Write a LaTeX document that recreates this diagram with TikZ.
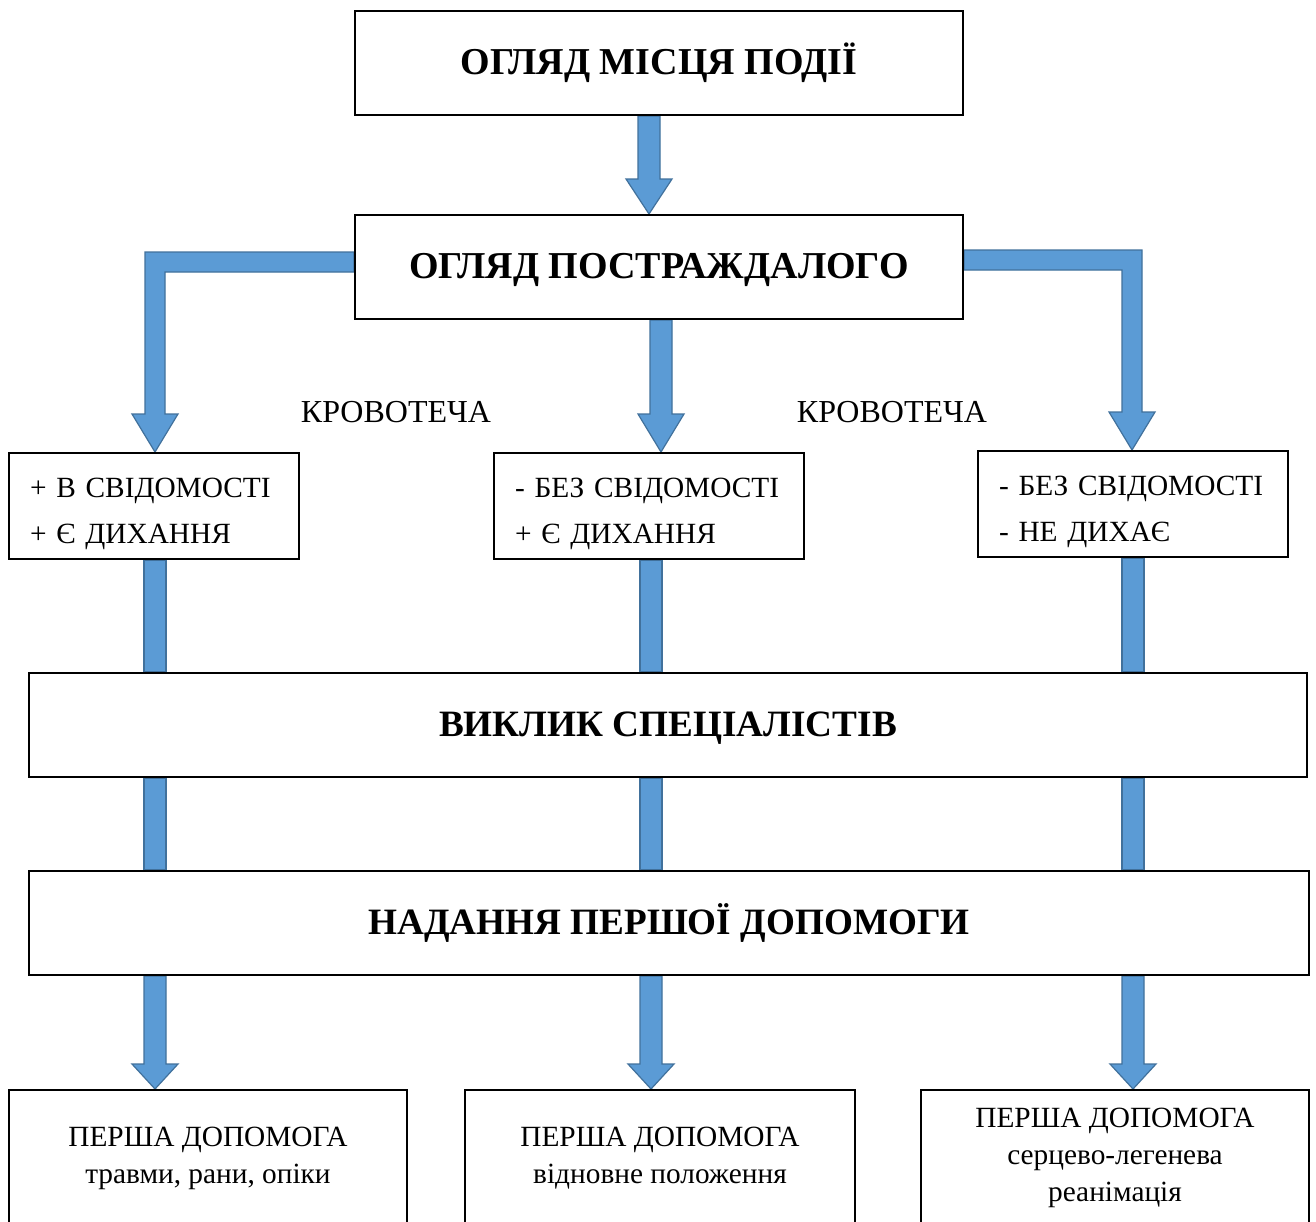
\documentclass[tikz,border=0pt]{standalone}
\usepackage{fontspec}
\setmainfont{Liberation Serif}
\usetikzlibrary{calc,backgrounds}
\definecolor{arrfill}{RGB}{91,155,213}
\definecolor{arrline}{RGB}{65,113,156}
\tikzset{
  box/.style={draw=black, line width=1.5pt, fill=white, inner sep=0pt, align=center},
  boldtxt/.style={font=\fontsize{28.5}{34}\selectfont\bfseries},
  boldtxtb/.style={font=\fontsize{27.9}{34}\selectfont\bfseries},
  regtxt/.style={font=\fontsize{22}{27.75}\selectfont},
  labtxt/.style={font=\fontsize{24}{28}\selectfont},
  listtxt/.style={font=\fontsize{22}{34.5}\selectfont, align=left, inner xsep=15.75pt, inner ysep=0pt},
  blk/.style={fill=arrfill, draw=arrline, line width=0.9pt, line join=miter},
}
\newcommand\blockdown[4]{%
  \path (#1 |- #2) coordinate (bs) (#1 |- #3) coordinate (be);
  \draw[blk] ($(bs)+(-11,0)$) -- ($(bs)+(11,0)$) -- ($(be)+(11,-#4)$) -- ($(be)+(23,-#4)$) -- (be) -- ($(be)+(-23,-#4)$) -- ($(be)+(-11,-#4)$) -- cycle;}
\newcommand\blockbar[3]{%
  \path (#1 |- #2) coordinate (bs) (#1 |- #3) coordinate (be);
  \draw[blk] ($(bs)+(-11,0)$) rectangle ($(be)+(11,0)$);}
\begin{document}
\begin{tikzpicture}[x=0.75pt,y=-0.75pt]
\useasboundingbox (0,0) rectangle (1316,1221);
\clip (0,0) rectangle (1316,1221);
% columns
\coordinate (cT) at (649,0);
\coordinate (cL) at (155,0);
\coordinate (cM) at (661,0);
\coordinate (cM2) at (651,0);
\coordinate (cR) at (1132,0);
\coordinate (cR2) at (1133,0);
% boxes
\node[box, boldtxt, minimum width=456pt, minimum height=78pt] (b1) at (659,63) {ОГЛЯД МІСЦЯ ПОДІЇ};
\node[box, boldtxt, minimum width=456pt, minimum height=78pt, text depth=2pt] (b2) at (659,267) {ОГЛЯД ПОСТРАЖДАЛОГО};
\node[box, minimum width=217.5pt, minimum height=79.5pt] (b3a) at (154,506) {};
\node[listtxt, text width=186pt] (t3a) at (154,514) {+ В СВІДОМОСТІ\\+ Є ДИХАННЯ};
\node[box, minimum width=232.5pt, minimum height=79.5pt] (b3b) at (649,506) {};
\node[listtxt, text width=201pt] (t3b) at (649,514) {- БЕЗ СВІДОМОСТІ\\+ Є ДИХАННЯ};
\node[box, minimum width=232.5pt, minimum height=79.5pt] (b3c) at (1133,504) {};
\node[listtxt, text width=201pt] (t3c) at (1133,512) {- БЕЗ СВІДОМОСТІ\\- НЕ ДИХАЄ};
\node[box, boldtxtb, minimum width=958.5pt, minimum height=78pt, text depth=1pt] (b4) at (668,725) {ВИКЛИК СПЕЦІАЛІСТІВ};
\node[box, boldtxtb, minimum width=960pt, minimum height=78pt] (b5) at (669,923) {НАДАННЯ ПЕРШОЇ ДОПОМОГИ};
\node[box, regtxt, minimum width=298.5pt, minimum height=102pt] (b6a) at (208,1158) {ПЕРША ДОПОМОГА\\травми, рани, опіки};
\node[box, regtxt, minimum width=292.5pt, minimum height=102pt] (b6b) at (660,1158) {ПЕРША ДОПОМОГА\\відновне положення};
\node[box, regtxt, minimum width=291pt, minimum height=102pt] (b6c) at (1115,1158) {ПЕРША ДОПОМОГА\\серцево-легенева\\реанімація};
% labels
\node[labtxt] (k1) at (396,412) {КРОВОТЕЧА};
\node[labtxt] (k2) at (892,412) {КРОВОТЕЧА};
% arrows
\begin{scope}[on background layer]
\fill[white] (0,0) rectangle (1316,1221);
\blockdown{cT}{b1.south}{b2.north}{35}
\blockdown{cM}{b2.south}{b3b.north}{38}
\path ($(b2.west)+(0,-5)$) coordinate (ls) (cL |- b3a.north) coordinate (le);
\draw[blk] ($(ls)+(0,-10)$) -- ($(cL |- ls)+(-10,-10)$) -- ($(le)+(-10,-38)$) -- ($(le)+(-23,-38)$) -- (le) -- ($(le)+(23,-38)$) -- ($(le)+(10,-38)$) -- ($(cL |- ls)+(10,10)$) -- ($(ls)+(0,10)$) -- cycle;
\path ($(b2.east)+(0,-7)$) coordinate (rs) (cR |- b3c.north) coordinate (re);
\draw[blk] ($(rs)+(0,-10)$) -- ($(cR |- rs)+(10,-10)$) -- ($(re)+(10,-38)$) -- ($(re)+(23,-38)$) -- (re) -- ($(re)+(-23,-38)$) -- ($(re)+(-10,-38)$) -- ($(cR |- rs)+(-10,10)$) -- ($(rs)+(0,10)$) -- cycle;
\blockbar{cL}{b3a.south}{b4.north}
\blockbar{cM2}{b3b.south}{b4.north}
\blockbar{cR2}{b3c.south}{b4.north}
\blockbar{cL}{b4.south}{b5.north}
\blockbar{cM2}{b4.south}{b5.north}
\blockbar{cR2}{b4.south}{b5.north}
\blockdown{cL}{b5.south}{b6a.north}{25}
\blockdown{cM2}{b5.south}{b6b.north}{25}
\blockdown{cR2}{b5.south}{b6c.north}{25}
\end{scope}
\end{tikzpicture}
\end{document}
